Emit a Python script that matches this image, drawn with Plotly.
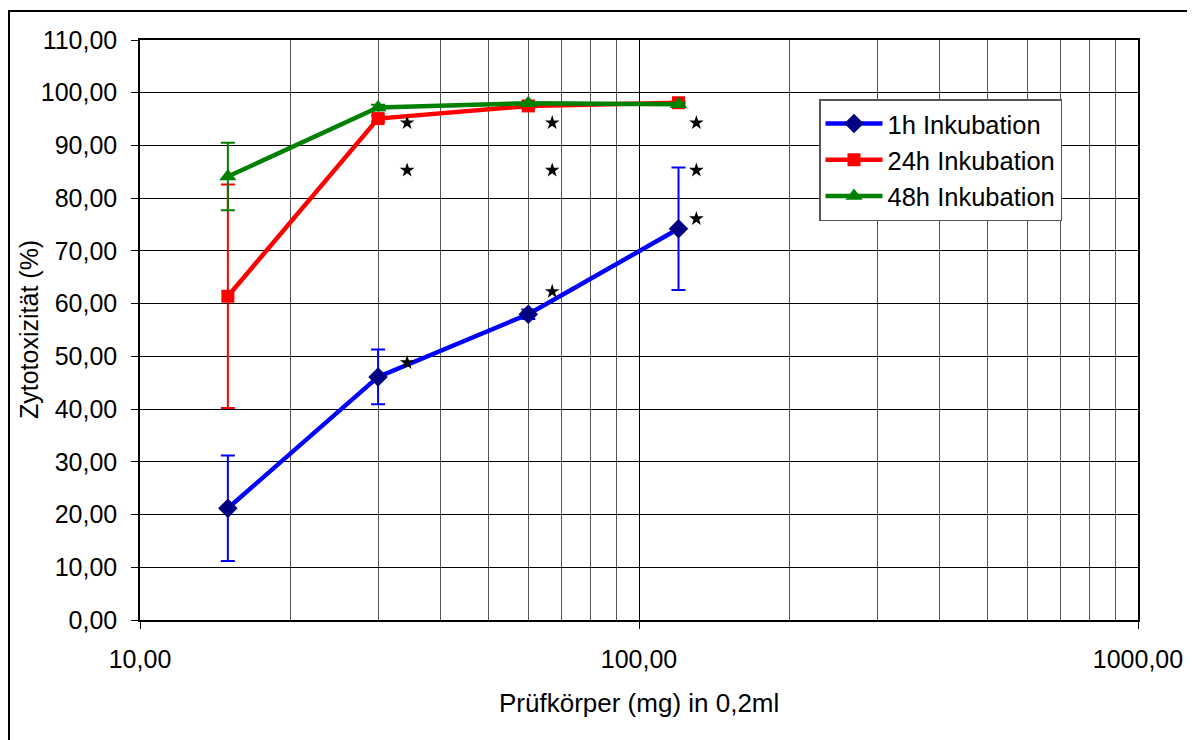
import plotly.graph_objects as go

x_vals = [15, 30, 60, 120]
names = ["1h Inkubation", "24h Inkubation", "48h Inkubation"]
y_1h = [21.2, 46.1, 58.0, 74.2]
err_1h = [10.0, 5.2, 0.9, 11.6]
y_24h = [61.4, 95.1, 97.5, 98.1]
err_24h = [21.2, 0.6, 0.5, 0.3]
y_48h = [84.1, 97.2, 98.0, 97.8]
err_48h = [6.4, 0.5, 0.3, 0.3]

star_x = [34.3, 34.3, 34.3, 67, 67, 67, 130.3, 130.3, 130.3]
star_y = [94.3, 85.3, 48.8, 94.3, 85.3, 62.3, 94.3, 85.3, 76.1]

x_title = "Prüfkörper (mg) in 0,2ml"
y_title = "Zytotoxizität (%)"
x_ticks = [10, 100, 1000]
x_ticktext = ["10,00", "100,00", "1000,00"]
y_ticks = list(range(0, 111, 10))
y_ticktext = [f"{v},00" for v in y_ticks]
minor_x = [v * d for d in (10, 100) for v in range(2, 10)]

# page body has an 8px margin; figure starts at (8, 8)
W, H = 1187, 740
ML, MR, MT, MB = 132, 57, 32, 128
pw, ph = W - ML - MR, H - MT - MB

fig = go.Figure()

series = [
    (y_1h, err_1h, "#0000FF", "#000080", "diamond", 15),
    (y_24h, err_24h, "#FF0000", "#FF0000", "square", 13),
    (y_48h, err_48h, "#008000", "#008000", "triangle-up", 15),
]
for (ys, es, lc, mc, sym, ms), nm in zip(series, names):
    fig.add_trace(go.Scatter(
        x=x_vals, y=ys, name=nm, mode="lines+markers",
        line=dict(color=lc, width=4.5),
        marker=dict(color=mc, symbol=sym, size=ms, line=dict(width=0)),
        error_y=dict(type="data", array=es, visible=True, color=lc,
                     thickness=2, width=7),
    ))

fig.add_trace(go.Scatter(
    x=star_x, y=star_y, mode="markers", showlegend=False,
    marker=dict(symbol="star", size=11, color="black", line=dict(width=0)),
    hoverinfo="skip",
))

font = "Liberation Sans, Arial, sans-serif"
fig.update_layout(
    width=W, height=H,
    margin=dict(l=ML, r=MR, t=MT, b=MB),
    paper_bgcolor="white", plot_bgcolor="white",
    font=dict(family=font, size=25, color="black"),
    showlegend=True,
    legend=dict(
        x=(819 - 140) / pw, y=(620 - 99) / ph,
        xanchor="left", yanchor="top",
        bordercolor="#555555", borderwidth=1.5, bgcolor="white",
        font=dict(family=font, size=25.5), itemwidth=57, tracegroupgap=0,
    ),
    xaxis=dict(
        type="log", range=[1, 3], automargin=False,
        tickvals=x_ticks, ticktext=x_ticktext,
        tickfont=dict(family=font, size=25),
        showgrid=True, gridcolor="#000000", gridwidth=1,
        minor=dict(tickvals=minor_x, showgrid=True, gridcolor="#555555",
                   gridwidth=1, ticks=""),
        showline=True, linecolor="black", linewidth=1.5, mirror=True,
        ticks="outside", ticklen=7, tickcolor="black",
        ticklabelstandoff=9,
        zeroline=False,
    ),
    yaxis=dict(
        range=[0, 110], automargin=False,
        tickvals=y_ticks, ticktext=y_ticktext,
        tickfont=dict(family=font, size=25),
        showgrid=True, gridcolor="#000000", gridwidth=1,
        showline=True, linecolor="black", linewidth=1.5, mirror=True,
        ticks="outside", ticklen=7, tickcolor="black",
        ticklabelstandoff=9,
        zeroline=False,
    ),
)

fig.add_annotation(text=x_title, xref="paper", yref="paper",
                   x=0.5 + (646 - 639) / pw * 0, y=-(703 - 620) / ph,
                   xanchor="center", yanchor="middle", showarrow=False,
                   font=dict(family=font, size=26))
fig.add_annotation(text=y_title, xref="paper", yref="paper",
                   x=-(140 - 29) / pw, y=0.5, textangle=-90,
                   xanchor="center", yanchor="middle", showarrow=False,
                   font=dict(family=font, size=25))

fig.add_shape(type="rect", xref="paper", yref="paper",
              x0=-(ML - 1) / pw, x1=1 + (MR - 3) / pw,
              y0=-(MB + 10) / ph, y1=1 + (MT - 3) / ph,
              line=dict(color="black", width=2), fillcolor="rgba(0,0,0,0)",
              layer="below")

fig.write_html("out.html")
